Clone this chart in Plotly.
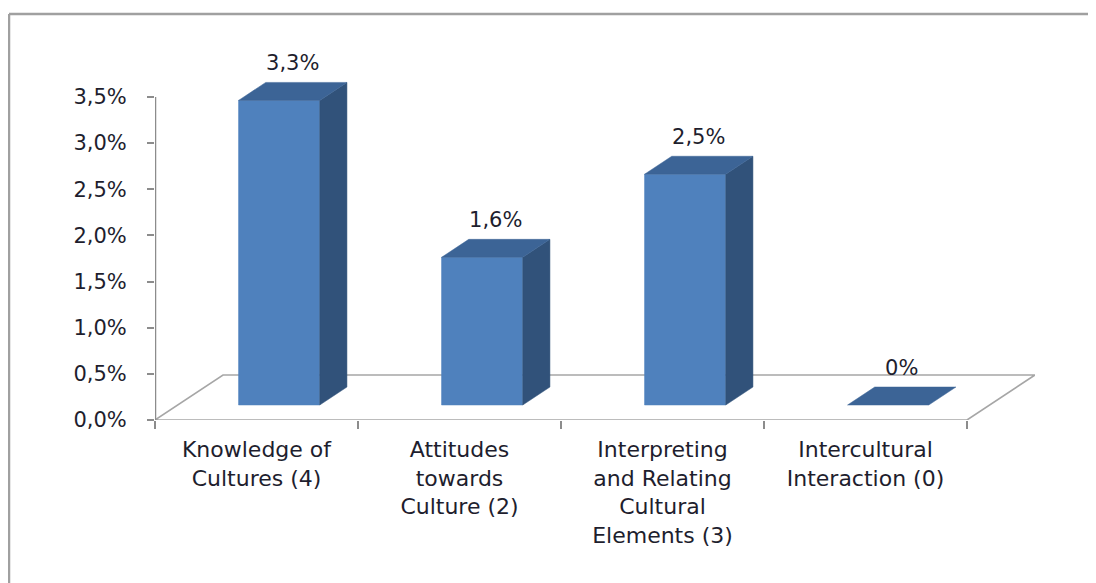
import plotly.graph_objects as go

# ---- data ----
CATEGORIES = ["Knowledge of<br>Cultures (4)", "Attitudes<br>towards<br>Culture (2)",
              "Interpreting<br>and Relating<br>Cultural<br>Elements (3)", "Intercultural<br>Interaction (0)"]
VALUES = [3.3, 1.6, 2.5, 0.0]
VALUE_LABELS = ["3,3%", "1,6%", "2,5%", "0%"]
Y_TICKS = [0.0, 0.5, 1.0, 1.5, 2.0, 2.5, 3.0, 3.5]
Y_TICK_LABELS = ["0,0%", "0,5%", "1,0%", "1,5%", "2,0%", "2,5%", "3,0%", "3,5%"]

# ---- pseudo-3D projection parameters (in axis units) ----
PX_PER_CAT = 203.0
PX_PER_PCT = 92.3
DX = 68.0 / PX_PER_CAT      # full floor depth, horizontal shift
DY = 45.0 / PX_PER_PCT      # full floor depth, vertical shift
D0, D1 = 0.333, 0.733       # bar front/back depth
HALF_W = 0.2                # half bar width in category units

FRONT = "#4F81BD"
SIDE = "#31527A"
TOP = "#3C6496"
GRID = "#A6A6A6"
TXT = "#1E1E2E"
FONT = "DejaVu Sans"

n = len(CATEGORIES)
Y_MAX = Y_TICKS[-1]


def proj(x, v, d):
    return x + d * DX, v + d * DY


fig = go.Figure()

# floor outline (drawn first so bars cover it)
fl = [proj(0, 0, 0), proj(n, 0, 0), proj(n, 0, 1), proj(0, 0, 1), proj(0, 0, 0)]
fig.add_trace(go.Scatter(x=[p[0] for p in fl], y=[p[1] for p in fl], mode="lines",
                         line=dict(color=GRID, width=1.6), hoverinfo="skip", showlegend=False))
# y axis line at the front plane
fig.add_trace(go.Scatter(x=[0, 0], y=[0, Y_MAX], mode="lines",
                         line=dict(color="#8C8C8C", width=2.5), hoverinfo="skip", showlegend=False))

# bars
for i, v in enumerate(VALUES):
    xl, xr = i + 0.5 - HALF_W, i + 0.5 + HALF_W
    faces = []
    if v > 0:
        front = [proj(xl, 0, D0), proj(xr, 0, D0), proj(xr, v, D0), proj(xl, v, D0)]
        side = [proj(xr, 0, D0), proj(xr, 0, D1), proj(xr, v, D1), proj(xr, v, D0)]
        faces += [(front, FRONT), (side, SIDE)]
    top = [proj(xl, v, D0), proj(xr, v, D0), proj(xr, v, D1), proj(xl, v, D1)]
    faces.append((top, TOP))
    for pts, col in faces:
        pts = pts + [pts[0]]
        fig.add_trace(go.Scatter(x=[p[0] for p in pts], y=[p[1] for p in pts], mode="lines",
                                 fill="toself", fillcolor=col, line=dict(color=col, width=0.5),
                                 hoverinfo="skip", showlegend=False))

# value labels above the bar tops
lx, ly = [], []
for i, v in enumerate(VALUES):
    cx, cy = proj(i + 0.5, v, (D0 + D1) / 2)
    lx.append(cx)
    ly.append(cy + 0.17)
fig.add_trace(go.Scatter(x=lx, y=ly, mode="text", text=VALUE_LABELS, textposition="top center",
                         textfont=dict(family=FONT, size=21, color=TXT), cliponaxis=False,
                         hoverinfo="skip", showlegend=False))

# page body has an 8px default margin: compensate so the plot lands where the reference has it
OFF = 8
W, H = 1096, 583
ML, MR, MT, MB = 155 - OFF, 61 + OFF, 42 - OFF, 163 + OFF
plot_w = W - ML - MR
plot_h = H - MT - MB

bx0 = (1 - ML) / plot_w
bx1 = (W + 40 - ML) / plot_w
by0 = -(H + 40 - (H - MB)) / plot_h
by1 = ((H - MB) - 6) / plot_h
border = dict(color="#A0A0A0", width=2.5)

fig.update_layout(
    width=W, height=H,
    margin=dict(l=ML, r=MR, t=MT, b=MB),
    paper_bgcolor="white", plot_bgcolor="white",
    xaxis=dict(range=[0, n + DX], tickvals=[i + 0.5 for i in range(n)], ticktext=CATEGORIES,
               ticks="", showgrid=False, zeroline=False, showline=False,
               tickfont=dict(family=FONT, size=22, color=TXT), ticklabelstandoff=14,
               minor=dict(tickvals=list(range(n + 1)), ticks="outside", ticklen=8,
                          tickcolor="#8C8C8C", tickwidth=2, showgrid=False)),
    yaxis=dict(range=[0, plot_h / PX_PER_PCT], tickvals=Y_TICKS, ticktext=Y_TICK_LABELS,
               ticks="outside", ticklen=7, tickcolor="#8C8C8C", tickwidth=2,
               showgrid=False, zeroline=False, showline=False,
               tickfont=dict(family=FONT, size=21, color=TXT), ticklabelstandoff=16),
    shapes=[
        dict(type="line", xref="paper", yref="paper", x0=bx0, x1=bx1, y0=by1, y1=by1,
             line=border, layer="below"),
        dict(type="line", xref="paper", yref="paper", x0=bx0, x1=bx0, y0=by0, y1=by1,
             line=border, layer="below"),
    ],
)

fig.write_html("out.html")
